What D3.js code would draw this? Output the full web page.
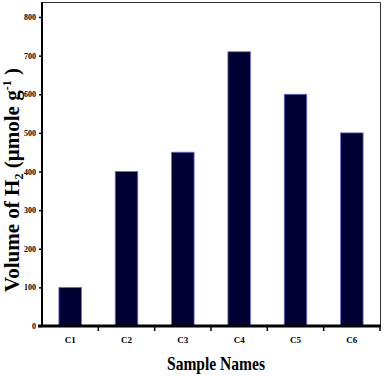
<!DOCTYPE html>
<html>
<head>
<meta charset="utf-8">
<script src="https://cdn.jsdelivr.net/npm/d3@7"></script>
<style>
  body { margin: 0; background: #fff; }
</style>
</head>
<body>
<div id="chart"></div>
<script>
// data
const samples = ["C1", "C2", "C3", "C4", "C5", "C6"];
const volumes = [100, 400, 450, 710, 600, 500];
const yTicks = [0, 100, 200, 300, 400, 500, 600, 700, 800];

const width = 384,
  height = 377,
  marginTop = 2,
  marginRight = 4,
  marginBottom = 51,
  marginLeft = 42;

const font = "'Liberation Serif', 'Times New Roman', serif";

const svg = d3
  .select("#chart")
  .append("svg")
  .attr("width", width)
  .attr("height", height)
  .attr("viewBox", [0, 0, width, height]);

const xBand = d3.scaleBand(samples, [marginLeft, width - marginRight]);
const yScale = d3.scaleLinear([0, 800], [height - marginBottom, 17]);

// frame (top + right)
svg
  .append("path")
  .attr(
    "d",
    `M${marginLeft},${marginTop + 0.5}H${width - marginRight + 0.5}V${height - marginBottom}`
  )
  .attr("fill", "none")
  .attr("stroke", "#333")
  .attr("stroke-width", 1);

// bars
svg
  .append("g")
  .selectAll("rect")
  .data(volumes)
  .join("rect")
  .attr("x", (d, i) => xBand(samples[i]) + xBand.bandwidth() * 0.3)
  .attr("y", (d) => yScale(d))
  .attr("width", xBand.bandwidth() * 0.4)
  .attr("height", (d) => yScale(0) - yScale(d))
  .attr("fill", "#000033")
  .attr("stroke", "#6f6fd8")
  .attr("stroke-width", 0.8);

// y axis
svg
  .append("g")
  .attr("transform", `translate(${marginLeft},0)`)
  .call(d3.axisLeft(yScale).tickValues(yTicks).tickSize(3).tickPadding(3))
  .call((g) => g.select(".domain").attr("stroke-width", 2).attr("d", `M0,${marginTop}V${yScale(0)}`))
  .call((g) => g.selectAll(".tick line").attr("stroke-width", 1.5))
  .call((g) =>
    g
      .selectAll(".tick text")
      .attr("font-family", font)
      .attr("font-weight", "bold")
      .attr("font-size", 8)
      .attr("fill", "#000")
  );

// x axis
svg
  .append("g")
  .attr("transform", `translate(0,${yScale(0)})`)
  .call(d3.axisBottom(xBand).tickSize(0).tickPadding(11))
  .call((g) => g.select(".domain").attr("stroke-width", 3).attr("d", `M${marginLeft - 4},0H${width - marginRight + 1}`))
  .call((g) =>
    g
      .selectAll(".tick text")
      .attr("font-family", font)
      .attr("font-weight", "bold")
      .attr("font-size", 9)
      .attr("fill", "#000")
  );

// x tick marks between categories
svg
  .append("g")
  .selectAll("line")
  .data(samples)
  .join("line")
  .attr("x1", (d) => xBand(d) + xBand.bandwidth())
  .attr("x2", (d) => xBand(d) + xBand.bandwidth())
  .attr("y1", yScale(0))
  .attr("y2", yScale(0) + 5)
  .attr("stroke", "#000")
  .attr("stroke-width", 1.5);

// x title
svg
  .append("text")
  .attr("x", 216)
  .attr("y", 370)
  .attr("text-anchor", "middle")
  .attr("font-family", font)
  .attr("font-weight", "bold")
  .attr("font-size", 19)
  .attr("textLength", 98)
  .attr("lengthAdjust", "spacingAndGlyphs")
  .text("Sample Names");

// y title
const yTitle = svg
  .append("text")
  .attr("transform", `translate(19,180) rotate(-90)`)
  .attr("text-anchor", "middle")
  .attr("font-family", font)
  .attr("font-weight", "bold")
  .attr("font-size", 21);
yTitle.append("tspan").text("Volume of H");
yTitle.append("tspan").attr("font-size", 12).attr("dy", 4).text("2");
yTitle.append("tspan").attr("dy", -4).text(" (µmole g");
yTitle.append("tspan").attr("font-size", 12).attr("dy", -8).text("-1");
yTitle.append("tspan").attr("dy", 8).text(" )");
</script>
</body>
</html>
